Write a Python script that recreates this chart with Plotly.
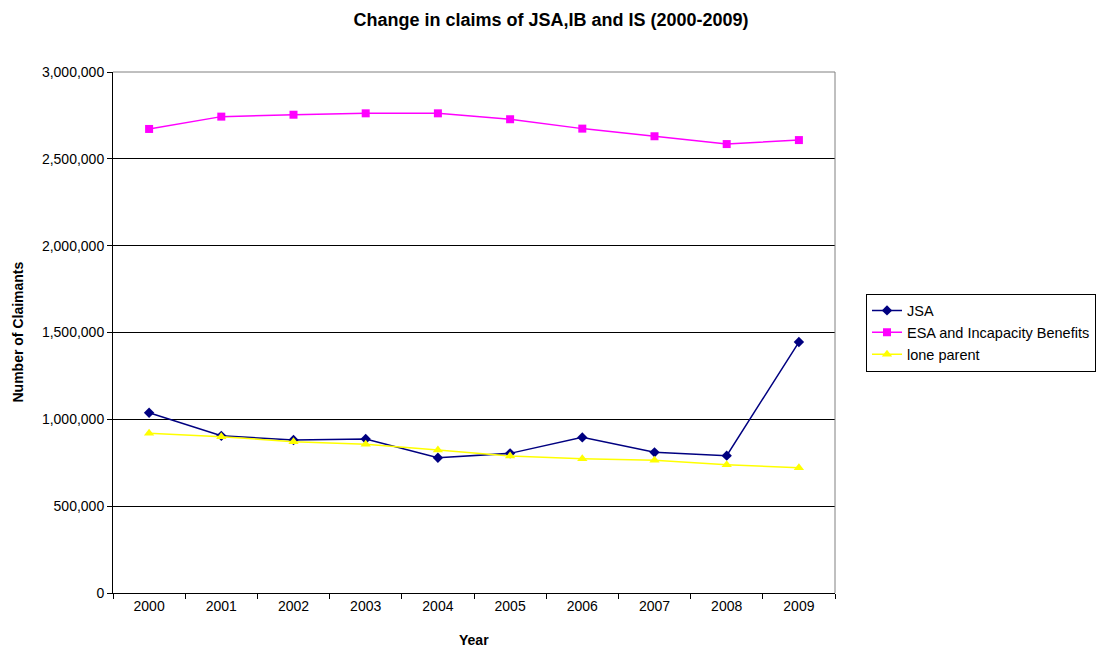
import plotly.graph_objects as go

years = ["2000", "2001", "2002", "2003", "2004", "2005", "2006", "2007", "2008", "2009"]
jsa = [1038000, 905000, 881000, 887000, 779000, 804000, 896000, 810000, 791000, 1445000]
esa_ib = [2672000, 2743000, 2754000, 2762000, 2762000, 2728000, 2674000, 2630000, 2585000, 2608000]
lone_parent = [920000, 900000, 871000, 856000, 823000, 789000, 773000, 764000, 739000, 721000]

FONT = "Arial, 'Liberation Sans', sans-serif"

fig = go.Figure()
fig.add_trace(go.Scatter(x=years, y=jsa, name="JSA", mode="lines+markers",
                         line=dict(color="#000080", width=1.5),
                         marker=dict(symbol="diamond", size=8, color="#000080")))
fig.add_trace(go.Scatter(x=years, y=esa_ib, name="ESA and Incapacity Benefits", mode="lines+markers",
                         line=dict(color="#FF00FF", width=1.5),
                         marker=dict(symbol="square", size=8, color="#FF00FF")))
fig.add_trace(go.Scatter(x=years, y=lone_parent, name="lone parent", mode="lines+markers",
                         line=dict(color="#FFFF00", width=1.5),
                         marker=dict(symbol="triangle-up", size=9, color="#FFFF00")))

fig.update_layout(
    width=1102, height=650,
    margin=dict(l=113, r=267, t=72, b=57, autoexpand=False),
    paper_bgcolor="white", plot_bgcolor="white",
    font=dict(family=FONT, size=14, color="black"),
    title=dict(text="<b>Change in claims of JSA,IB and IS (2000-2009)</b>",
               x=0.5, xref="container", xanchor="center",
               y=1 - 20 / 650, yref="container", yanchor="middle",
               font=dict(family=FONT, size=18, color="black")),
    showlegend=True,
    legend=dict(x=(866 - 113) / 722, xanchor="left", y=0.5, yanchor="middle",
                bordercolor="black", borderwidth=1, bgcolor="white",
                font=dict(family=FONT, size=14.5, color="black"),
                tracegroupgap=0, itemsizing="trace"),
    xaxis=dict(type="category", range=[-0.5, 9.5], tickson="boundaries",
               ticks="outside", ticklen=5,
               tickcolor="black", showline=True, linecolor="black", linewidth=1,
               showgrid=False, tickfont=dict(size=14)),
    yaxis=dict(range=[0, 3000000], tickvals=[0, 500000, 1000000, 1500000, 2000000, 2500000, 3000000],
               tickformat=",", ticks="outside", ticklen=5, tickcolor="black",
               showline=True, linecolor="black", linewidth=1,
               showgrid=True, gridcolor="black", gridwidth=1,
               zeroline=False, tickfont=dict(size=14)),
    annotations=[
        dict(text="<b>Number of Claimants</b>", xref="paper", yref="paper",
             x=(17 - 113) / 722, y=0.5, textangle=-90, showarrow=False,
             xanchor="center", yanchor="middle", font=dict(family=FONT, size=14)),
        dict(text="<b>Year</b>", xref="paper", yref="paper",
             x=0.5, y=-(640 - 593) / 521, showarrow=False,
             xanchor="center", yanchor="middle", font=dict(family=FONT, size=14)),
    ],
    shapes=[
        dict(type="line", xref="paper", yref="paper", x0=0, x1=1, y0=1, y1=1,
             line=dict(color="#808080", width=1), layer="above"),
        dict(type="line", xref="paper", yref="paper", x0=1, x1=1, y0=0, y1=1,
             line=dict(color="#808080", width=1), layer="above"),
    ],
)

fig.write_html("out.html")
